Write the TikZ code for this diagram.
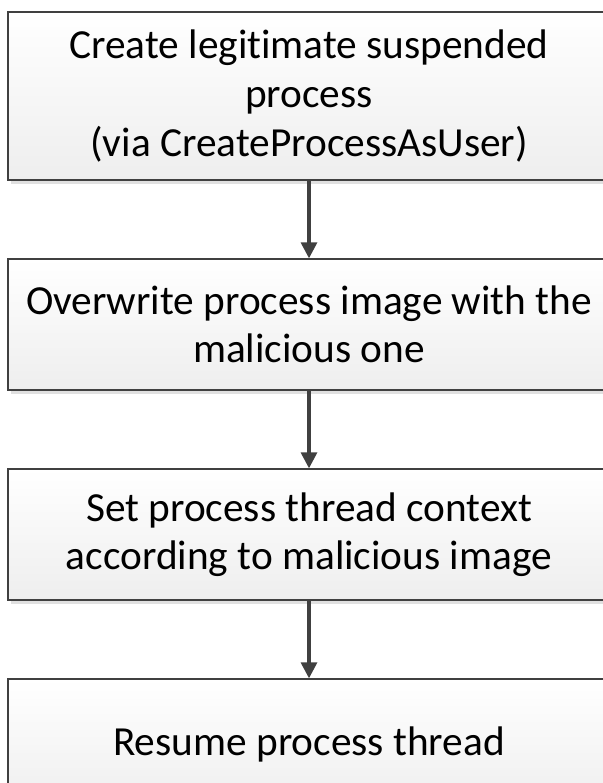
\documentclass[tikz,border=0pt]{standalone}
\usepackage{fontspec}
\setmainfont{Carlito}[Ligatures=NoCommon]
\usetikzlibrary{arrows.meta}

\begin{document}
\begin{tikzpicture}[x=0.75pt,y=0.75pt,yscale=-1,xscale=1,
  stepbox/.style={draw={rgb, 255:red, 64; green, 64; blue, 64}, line width=1pt,
    top color=white, bottom color={rgb, 255:red, 238; green, 238; blue, 238},
    minimum width=451.5pt, inner sep=0pt, align=center,
    font=\fontsize{31}{36.4}\selectfont},
  flowarrow/.style={draw={rgb, 255:red, 64; green, 64; blue, 64}, line width=2.4pt,
    -{Triangle[length=12pt,width=12pt]}}]
\useasboundingbox (0,0) rectangle (603,783);
\clip (0,0) rectangle (603,783);

%Shadows
\fill [fill={rgb, 255:red, 224; green, 224; blue, 224 }] (11,180) rectangle (614,184);
\fill [fill={rgb, 255:red, 224; green, 224; blue, 224 }] (11,390) rectangle (614,394);
\fill [fill={rgb, 255:red, 224; green, 224; blue, 224 }] (11,600) rectangle (614,604);

% Step boxes
\node [stepbox, minimum height=126pt] (create) at (309,96) {Create legitimate suspended\\process\\(via CreateProcessAsUser)};
\node [stepbox, minimum height=98.25pt] (overwrite) at (309,324.5) {Overwrite process image with the\\malicious one};
\node [stepbox, minimum height=98.25pt] (context) at (309,534.5) {Set process thread context\\according to malicious image};
\node [stepbox, minimum height=98.25pt] (resume) at (309,744.5) {Resume process thread};

% Arrows
\draw [flowarrow] (create.south) -- (overwrite.north);
\draw [flowarrow] (overwrite.south) -- (context.north);
\draw [flowarrow] (context.south) -- (resume.north);

\end{tikzpicture}
\end{document}
